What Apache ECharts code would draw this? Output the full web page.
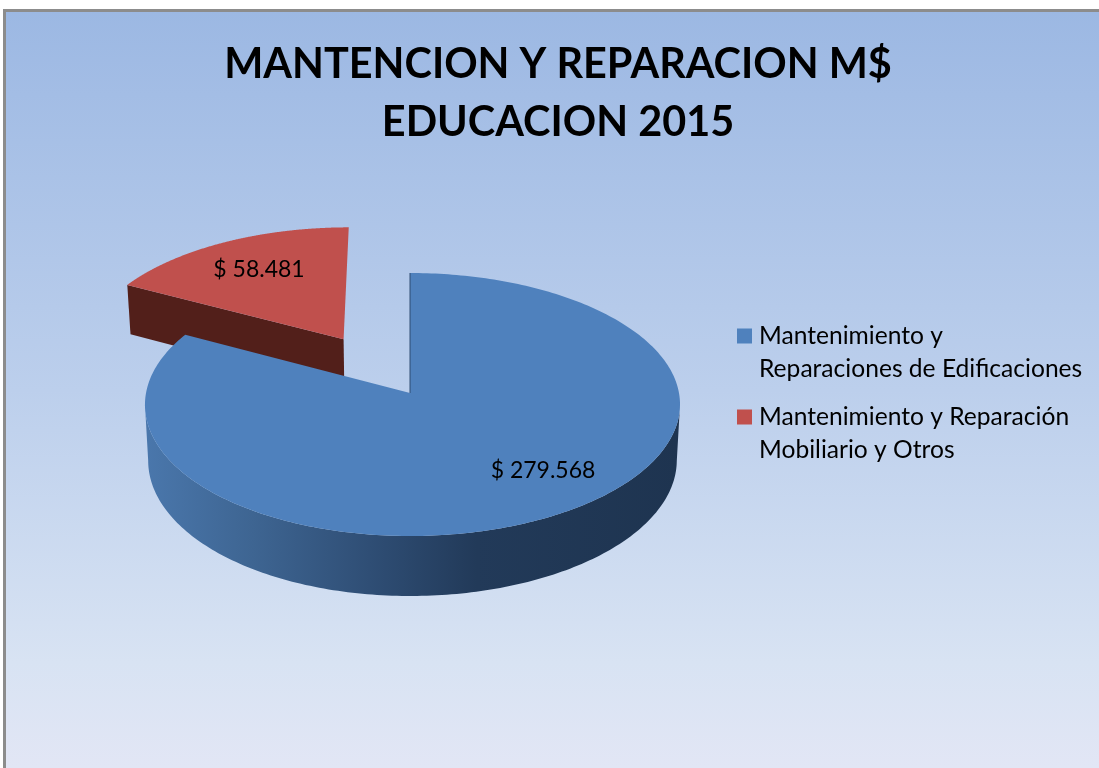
<!DOCTYPE html>
<html>
<head>
<meta charset="utf-8">
<style>html,body{margin:0;padding:0;background:#fff}#c{width:1099px;height:768px}</style>
<script src="https://cdn.jsdelivr.net/npm/echarts@6/dist/echarts.min.js"></script>
</head>
<body>
<div id="c"></div>
<script>
const titleLines = ['MANTENCION Y REPARACION M$', 'EDUCACION 2015'];
const categories = ['Mantenimiento y\nReparaciones de Edificaciones', 'Mantenimiento y Reparación\nMobiliario y Otros'];
const values = [279568, 58481];
const colors = ['#4f81bd', '#c0504d'];
const explode = [0, 0.5];
const labelPos = [[543, 471], [259, 270]];

const total = values.reduce((a, b) => a + b, 0);
const K = -0.0875, A = 130.5, C = 266.5, AX = 410, AY = 393;

function project(u, v, h, skew) {
  const w = 1 + K * v;
  return [
    AX + C * u / w * (1 - 0.012 * h) + skew * u * u,
    AY + A * v / w + h * 55.5 / Math.pow(w, 0.85)
  ];
}
function money(n) {
  return '$ ' + String(n).replace(/\B(?=(\d{3})+$)/g, '.');
}
function renderSlice(index) {
  return function (params, api) {
    const val = api.value(0);
    let start = 0;
    for (let i = 0; i < index; i++) start += values[i];
    const a0 = start / total * Math.PI * 2;
    const a1 = (start + val) / total * Math.PI * 2;
    const mid = (a0 + a1) / 2;
    const ou = Math.sin(mid) * explode[index], ov = -Math.cos(mid) * explode[index];
    const skew = index === 0 ? 2.5 : 0;
    const P = (r, ang, h) => project(ou + r * Math.sin(ang), ov - r * Math.cos(ang), h, skew);
    const steps = 300;
    const top = [], nearTop = [], nearBottom = [];
    for (let i = 0; i <= steps; i++) {
      const t = a0 + (a1 - a0) * i / steps;
      top.push(P(1, t, 0));
      if (-Math.cos(t) >= 0.0875) {
        nearTop.push(P(1, t, 0));
        nearBottom.push(P(1, t, 1));
      }
    }
    const apex = P(0, 0, 0);
    const children = [];
    if (index === 0) {
      children.push({
        type: 'polygon',
        shape: { points: nearTop.concat(nearBottom.reverse()) },
        style: {
          fill: new echarts.graphic.LinearGradient(0, 0, 1, 0, [
            { offset: 0, color: '#4a77ac' },
            { offset: 0.2, color: '#3e6592' },
            { offset: 0.42, color: '#2f4e75' },
            { offset: 0.62, color: '#223a59' },
            { offset: 1, color: '#1e3450' }
          ])
        }
      });
    } else {
      children.push({
        type: 'polygon',
        shape: { points: [apex, P(1, a0, 0), P(1, a0, 0.95), P(0, 0, 0.95)] },
        style: { fill: '#521f1a' }
      });
    }
    children.push({
      type: 'polygon',
      shape: { points: [apex].concat(top) },
      style: { fill: colors[index] }
    });
    if (index === 0) {
      children.push({
        type: 'line',
        shape: { x1: apex[0], y1: apex[1], x2: top[0][0], y2: top[0][1] },
        style: { stroke: '#2f4d73', lineWidth: 1 }
      });
    }
    children.push({
      type: 'text',
      style: {
        text: money(val),
        x: labelPos[index][0], y: labelPos[index][1],
        fill: '#000', align: 'center', verticalAlign: 'middle',
        font: '23px Lato'
      }
    });
    return { type: 'group', children };
  };
}

const chart = echarts.init(document.getElementById('c'), null, { renderer: 'canvas' });
chart.setOption({
  animation: false,
  backgroundColor: '#ffffff',
  graphic: [
    { type: 'rect', z: -2, shape: { x: 3, y: 9, width: 1096, height: 759 }, style: { fill: '#8c8c8c' } },
    {
      type: 'rect', z: -1, shape: { x: 6, y: 12, width: 1093, height: 756 },
      style: {
        fill: new echarts.graphic.LinearGradient(0, 0, 0, 1, [
          { offset: 0, color: '#9cb8e3' },
          { offset: 0.5, color: '#bccfec' },
          { offset: 0.86, color: '#d8e3f3' },
          { offset: 1, color: '#e2e6f5' }
        ])
      }
    }
  ],
  title: {
    text: titleLines.join('\n'),
    left: 553, top: 31, textAlign: 'center',
    textStyle: { fontFamily: 'Lato', fontWeight: 'bold', fontSize: 41.4, lineHeight: 58, color: '#000' }
  },
  legend: {
    orient: 'vertical',
    left: 737, top: 320, padding: 0,
    itemWidth: 17, itemHeight: 48, itemGap: 16,
    icon: 'path://M0 0H15V15H0Z M17 48L17 48Z',
    data: categories,
    selectedMode: false,
    textStyle: { fontFamily: 'Lato', fontSize: 24.6, lineHeight: 32.5, color: '#000' }
  },
  series: categories.map((name, i) => ({
    type: 'custom',
    name,
    coordinateSystem: 'none',
    z: i === 0 ? 4 : 3,
    itemStyle: { color: colors[i] },
    data: [[values[i]]],
    renderItem: renderSlice(i)
  }))
});
</script>
</body>
</html>
